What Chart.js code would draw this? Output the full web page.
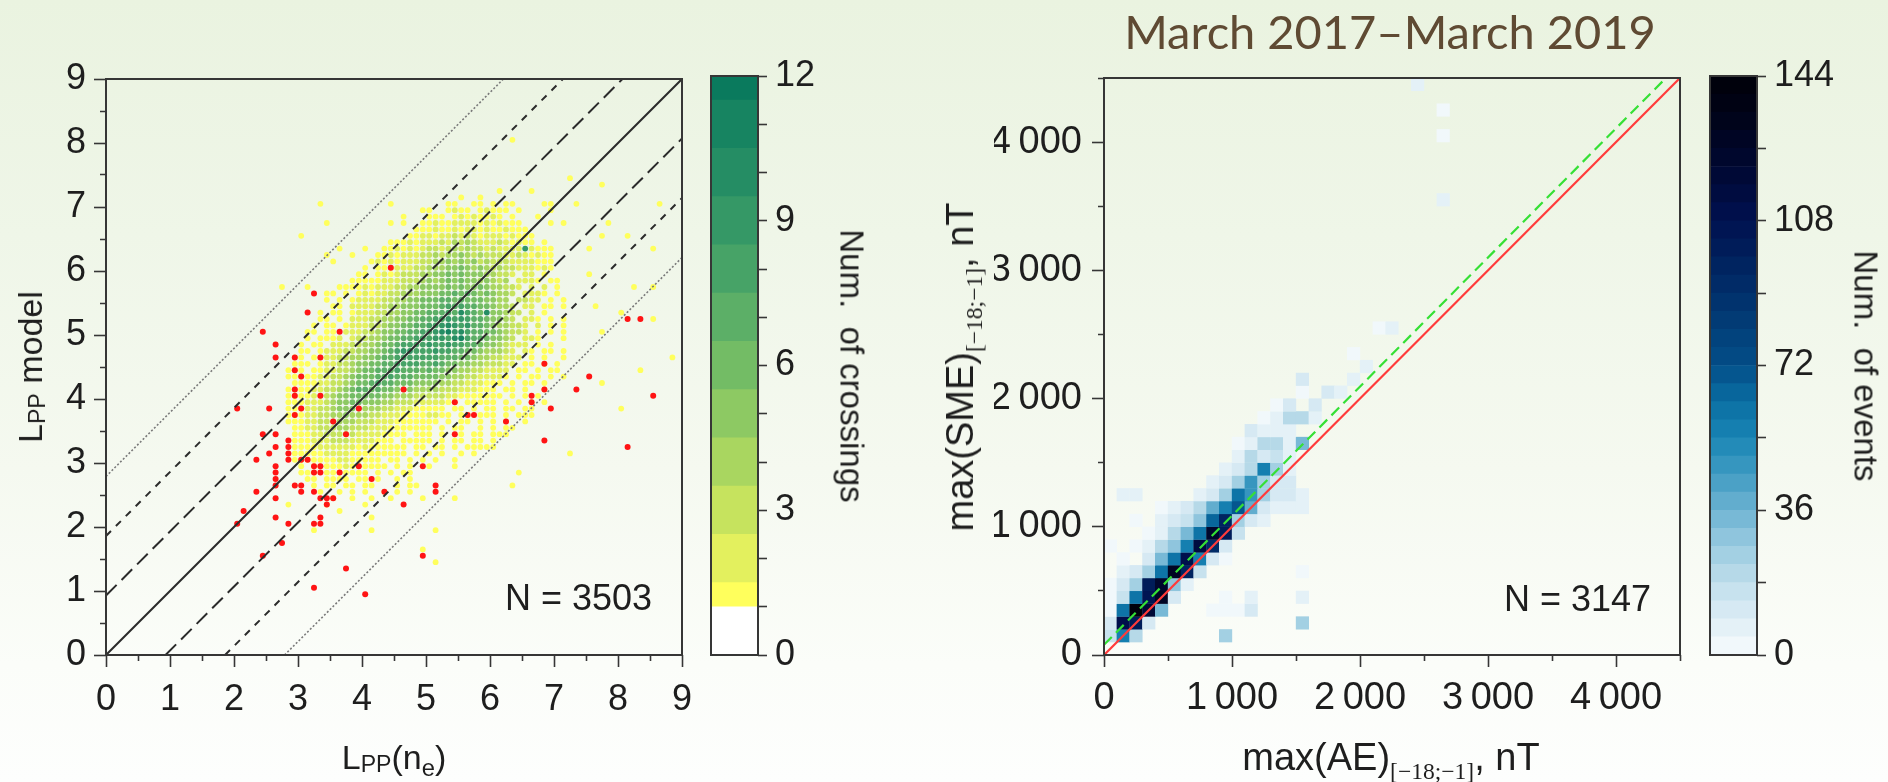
<!DOCTYPE html>
<html lang="en">
<head>
<meta charset="utf-8">
<title>Plasmapause model and SME/AE comparison</title>
<script src="https://cdn.jsdelivr.net/npm/chart.js@4.4.1/dist/chart.umd.min.js"></script>
<style>
  html, body { margin: 0; padding: 0; }
  body {
    width: 1888px; height: 782px; overflow: hidden; position: relative;
    background: linear-gradient(180deg, #eaf3e0 0%, #eff6e8 30%, #f5f9f0 60%, #fbfdf9 85%, #fdfefd 100%);
    font-family: "Liberation Sans", Arial, sans-serif; color: #1e1e1e;
  }
  canvas { position: absolute; left: 0; top: 0; }
  .t { position: absolute; white-space: nowrap; line-height: 1; transform: translate(-50%, -50%); }
  .rotL { transform: translate(-50%, -50%) rotate(-90deg); }
  .rotR { transform: translate(-50%, -50%) rotate(90deg); }
  .right { transform: translate(-100%, -50%); }
  .sub { font-size: 0.68em; position: relative; top: 0.12em; }
  .sube { font-size: 0.7em; position: relative; top: 0.3em; }
  .subr { font-family: "Liberation Serif", serif; font-size: 0.62em; position: relative; top: 0.38em; }
  #heading { font-family: Lato, "Open Sans", sans-serif; font-size: 47px; color: #5f4a33; }
</style>
</head>
<body>
<canvas id="lppChart" width="1888" height="782"></canvas>
<canvas id="lppBar" width="1888" height="782"></canvas>
<canvas id="smeChart" width="1888" height="782"></canvas>
<canvas id="smeBar" width="1888" height="782"></canvas>

<div class="t" id="heading" style="left:1390px; top:31px;">March 2017–March 2019</div>
<div class="t rotL" style="left:30px; top:367px; font-size:34px;">L<span class="sub">PP</span> model</div>
<div class="t" style="left:394px; top:757px; font-size:34px;">L<span class="sub">PP</span>(n<span class="sube">e</span>)</div>
<div class="t rotR" style="left:852px; top:366px; font-size:33px;">Num.&nbsp; of crossings</div>
<div class="t right" style="left:652px; top:598px; font-size:36px;">N = 3503</div>
<div class="t rotL" style="left:960px; top:367px; font-size:38px;">max(SME)<span class="subr">[−18;−1]</span>, nT</div>
<div class="t" style="left:1391px; top:757px; font-size:38px;">max(AE)<span class="subr">[−18;−1]</span>, nT</div>
<div class="t rotR" style="left:1866px; top:366px; font-size:33px;">Num.&nbsp; of events</div>
<div class="t right" style="left:1651px; top:599px; font-size:36px;">N = 3147</div>

<script>
// ---------- Left panel: modelled vs. observed plasmapause L ----------
const lppTickLabels = ['0', '1', '2', '3', '4', '5', '6', '7', '8', '9'];
const bandOffsets = [0, 0.93, 1.86, 2.79];          // y = x, ±1σ, ±2σ, ±3σ

// crossings per 0.1 × 0.1 cell; rows are [cell centre y, counts from x = 2.05 upward]
// '.' = empty, digits / letters are counts in base 36
const crossingX0 = 2.05, crossingBin = 0.1;
const crossingRows = [
  [8.05, ".......... .......... .......... .......... ...1...... .......... .........."],
  [7.45, ".......... .......... .......... .......... .......... ..1....... .........."],
  [7.35, ".......... .......... .......... .......... .......... .......1.. .........."],
  [7.25, ".......... .......... .......... .......... .1....1... .......... .........."],
  [7.15, ".......... .......... .......... .....1..1. .......... .......... .........."],
  [7.05, ".......... ...1...... ....1..... ...11..11. 1.11....11 ...1...... ......1..."],
  [6.95, ".......... .......... .........1 1..1211.12 111.1....1 .......... .........."],
  [6.85, ".......... .......... ......1... 111.121211 21.1...1.. .......... .........."],
  [6.75, ".......... ....1..... ....1.1..1 1211222212 12111....1 .1......1. .........."],
  [6.65, ".......... .......... ........11 1211212212 112111.... .......... .........."],
  [6.55, ".......... 1......... .......112 2122323212 2212111... .......1.. .1........"],
  [6.45, ".......... .......... ....111212 2232434322 2321211.1. .......... .........."],
  [6.35, ".......... ......1... 1..1121212 3323434332 3222292111 .....1.... .....1...."],
  [6.25, ".......... ....1...1. ..11212223 3434454343 3322321211 .......... .........."],
  [6.15, ".......... .....1.... .121212223 3445454534 3332222111 .......... .........."],
  [6.05, ".......... .......... 1.11122233 4445565454 3433222121 .......... .........."],
  [5.95, ".......... .........1 1.12123334 4556565554 4332.22.1. .....1.... .........."],
  [5.85, ".......... ........11 1112223334 5456565545 434.2221.1 1......... .........."],
  [5.75, ".......1.. .1....1111 2122233445 5556565565 44332.2.2. 1......... ..1..1...."],
  [5.65, ".......... ....11.1.1 2122334445 5566767656 5443.2221. 1......... .........."],
  [5.55, ".......... ....1.1.12 2223344556 6677676665 544.3322.1 .1........ .........."],
  [5.45, ".......... .....11.22 2233445556 6678787766 5443.22.11 .1....1... .........."],
  [5.35, ".......... ...1.11.12 2233445566 77787a876a 55433.2.1. .......... 1........."],
  [5.25, ".......... ...11.1.22 2334455667 7889898776 5543.221.1 .1........ .....1...."],
  [5.15, ".......... ..1.11.122 2334556677 889a989776 544332.2.1 .1........ .........."],
  [5.05, ".......... .11.11.222 3345566778 89ab9a8776 654332.1.1 .1.....1.. .........."],
  [4.95, ".......... .1.1112.23 3445667788 8998ab8776 5543.221.. .1........ .........."],
  [4.85, ".......... 1.11.22233 4456678888 9889887765 543222.1.1 .......... .........."],
  [4.75, ".......... 11.1222334 4556789988 8988776654 4432.21.11 .1........ .........."],
  [4.65, ".........1 1.11223344 5567788888 8877766544 33222.1.1. .1........ ........1."],
  [4.55, ".........1 11.1223345 5667788887 7876655443 3322.11.1. 1......... .........."],
  [4.45, "........11 1.11223345 6677787776 7665544332 222.11.1.1 1......... ...1......"],
  [4.35, "........11 1112233456 6677877766 6655443322 221.1.11.1 .1........ .........."],
  [4.25, ".........1 1112233456 6787766655 5544332221 11.1.11.1. .......1.. .........."],
  [4.15, "........11 1122334567 7676655544 4433322211 1.11.1..1. .......... .........."],
  [4.05, "........11 1122345566 6665544433 3332211111 11.1.1.1.. .......... .........."],
  [3.95, "........11 1222345566 5554433322 22211.1111 1.1.1.1.1. .......... .........."],
  [3.85, "........11 1223345555 4443322211 111.11.1.1 1.11.11... .......... 1........."],
  [3.75, "........11 1223344544 4332221111 2211.11.11 1.1.111... .......... .........."],
  [3.65, "........11 1223344443 3322211111 11.1.11.1. 1.1..1.... .......... .........."],
  [3.55, ".........1 1223334433 3222111111 1.1.11..1. 1.11...... .......... .........."],
  [3.45, ".........1 1122333332 2221111.11 1.1..1.11. 111....... .......... .........."],
  [3.35, ".........1 1122233322 22111.1111 1.1.11.11. 1......... .......... .........."],
  [3.25, ".........1 1112222221 2111111.11 .11.1.1111 1......... .......... .........."],
  [3.15, ".........1 1111222211 1111111.1. 1.1..1.1.. .......... ..1....... .........."],
  [3.05, ".........1 1111112211 111.11.1.1 .1..1..... .......... .......... .........."],
  [2.95, ".......... 1.11111211 1111.1.1.. 1...1..... .......... .......... .........."],
  [2.85, ".......... 111.111111 1.1.1.11.. .......... ....1..... .......... .........."],
  [2.75, ".......... .11.1111.1 1.1..1.1.. .......... .......... .......... .........."],
  [2.65, ".......... ..1.11.11. 11...1.11. .......... ...1...... .......... .........."],
  [2.55, ".......... ...1..1.1. 1..1.1.1.. .......... .......... .......... .........."],
  [2.45, ".......... .....1..1. .1..1....1 ....1..... .......... .......... .........."],
  [2.35, "........1. ....1..... 1......... .......... .......... .......... .........."],
  [2.25, ".......... ......1... .......... .......... .......... .......... .........."],
  [2.15, ".......... .......... .1........ .......... .......... .......... .........."],
  [1.95, ".......... ..1....... .1........ .1........ .......... .......... .........."],
  [1.65, ".......... .......... .........1 .......... .......... .......... .........."],
  [1.45, ".......... .......... .......... .1........ .......... .......... .........."]
];

// crossings flagged separately (red)
const outlierX = [4.45, 3.25, 3.15, 2.45, 2.65, 2.65, 2.95, 3.35, 3.65, 2.95, 3.05, 2.95, 2.95, 3.35, 4.65,
  8.15, 8.35, 6.85, 7.55, 7.35, 6.85, 6.65, 8.55,
  2.05, 2.55, 3.05, 2.95, 3.55, 3.95, 3.75, 2.45, 2.65, 2.65, 2.55, 2.85, 2.85, 2.85, 2.85, 2.35,
  3.05, 3.15, 2.65, 2.65, 3.25, 3.25, 3.35, 3.35, 3.65, 3.95, 4.15, 2.65, 2.65, 2.95, 3.05, 3.05,
  3.25, 2.35, 2.65, 3.35, 3.45, 3.55, 3.45, 2.15, 2.05, 2.65, 2.85, 3.25, 3.35, 3.35, 2.75, 2.45,
  3.75, 3.25, 4.05, 4.35, 4.65, 4.95, 5.15, 5.15, 4.95, 5.45, 5.45,
  6.95, 6.85, 8.15, 6.65, 6.25, 5.65, 5.75];
const outlierY = [6.05, 5.65, 5.35, 5.05, 4.85, 4.65, 4.65, 4.65, 5.05, 4.45, 4.35, 4.15, 4.05, 4.05, 4.15,
  5.25, 5.25, 4.55, 4.35, 4.15, 4.15, 4.05, 4.05,
  3.85, 3.85, 3.85, 3.75, 3.65, 3.85, 3.45, 3.45, 3.45, 3.25, 3.15, 3.35, 3.25, 3.15, 3.05, 3.05,
  3.05, 3.05, 2.95, 2.85, 2.95, 2.85, 2.85, 2.95, 2.85, 2.95, 2.75, 2.75, 2.65, 2.65, 2.65, 2.55,
  2.55, 2.55, 2.45, 2.45, 2.45, 2.45, 2.35, 2.25, 2.05, 2.15, 2.05, 2.05, 2.05, 2.15, 1.75, 1.55,
  1.35, 1.05, 0.95, 2.55, 2.35, 2.95, 2.65, 2.55, 1.55, 3.45, 3.95,
  3.85, 3.35, 3.25, 3.95, 3.65, 3.75, 3.75];

// colour bar: level edges and colours
const crossingEdges = [0, 1, 1.5, 2.5, 3.5, 4.5, 5.5, 6.5, 7.5, 8.5, 9.5, 10.5, 11.5, 12];
const crossingColors = ['#ffffff', '#ffff5c', '#e3f05e', '#c6e35e', '#a9d660', '#8dc963', '#73bc65',
  '#5caf67', '#47a367', '#359866', '#258d64', '#178461', '#0a7a5d'];
const crossingTickValues = [0, 3, 6, 9, 12];

// ---------- Right panel: max SME vs. max AE ----------
const aeTickLabels = ['0', '1\u2009000', '2\u2009000', '3\u2009000', '4\u2009000'];
const aeBin = 100;                                   // nT per cell
// event counts; row index = SME bin, entry index = AE bin
const eventRows = [
  [],
  [15, 55, 20, 0, 0, 0, 0, 0, 0, 25],
  [10, 110, 100, 12, 0, 0, 0, 0, 0, 0, 0, 0, 0, 0, 0, 25],
  [4, 60, 140, 120, 35, 0, 0, 0, 3, 3, 4, 12],
  [3, 15, 60, 105, 130, 12, 0, 0, 0, 4, 0, 8, 0, 0, 0, 5],
  [3, 12, 25, 100, 125, 30, 8],
  [0, 5, 12, 25, 60, 130, 95, 15, 0, 0, 0, 0, 0, 0, 0, 3],
  [0, 4, 0, 12, 35, 60, 110, 55, 10, 3],
  [3, 0, 4, 6, 18, 30, 55, 115, 90, 12],
  [0, 0, 0, 4, 8, 18, 35, 60, 125, 100, 15],
  [0, 0, 3, 0, 5, 10, 14, 30, 65, 95, 25, 12, 5],
  [0, 0, 0, 0, 3, 5, 10, 18, 40, 55, 70, 40, 10, 6, 5, 5],
  [0, 5, 5, 0, 0, 0, 0, 8, 12, 25, 60, 45, 25, 10, 10, 6],
  [0, 0, 0, 0, 0, 0, 0, 0, 6, 12, 25, 45, 25, 10, 12],
  [0, 0, 0, 0, 0, 0, 0, 0, 0, 6, 10, 18, 55, 25, 8],
  [0, 0, 0, 0, 0, 0, 0, 0, 0, 0, 5, 20, 10, 15, 5],
  [0, 0, 0, 0, 0, 0, 0, 0, 0, 0, 4, 8, 18, 18, 6, 35],
  [0, 0, 0, 0, 0, 0, 0, 0, 0, 0, 0, 12, 5, 8, 6],
  [0, 0, 0, 0, 0, 0, 0, 0, 0, 0, 0, 0, 4, 6, 18, 18, 8],
  [0, 0, 0, 0, 0, 0, 0, 0, 0, 0, 0, 0, 0, 4, 12, 0, 10],
  [0, 0, 0, 0, 0, 0, 0, 0, 0, 0, 0, 0, 0, 0, 0, 3, 0, 10, 8],
  [0, 0, 0, 0, 0, 0, 0, 0, 0, 0, 0, 0, 0, 0, 0, 12, 0, 0, 0, 8],
  [0, 0, 0, 0, 0, 0, 0, 0, 0, 0, 0, 0, 0, 0, 0, 0, 0, 0, 0, 0, 6],
  [0, 0, 0, 0, 0, 0, 0, 0, 0, 0, 0, 0, 0, 0, 0, 0, 0, 0, 0, 2],
  [],
  [0, 0, 0, 0, 0, 0, 0, 0, 0, 0, 0, 0, 0, 0, 0, 0, 0, 0, 0, 0, 0, 2, 8]
];
// isolated events far above the diagonal: [AE bin, SME bin, count]
const eventOutliers = [[26, 35, 6], [26, 40, 2], [26, 42, 2], [24, 44, 6]];
const identityLine = [[0, 0], [4500, 4500]];
const fitLine = [[0, 80], [4390, 4500]];

// colour bar for events
const eventMax = 144, eventStep = 4.5;
const eventTickValues = [0, 36, 72, 108, 144];
const eventStops = [
  [0, '#f7fbfd'], [9, '#deedf5'], [18, '#bfdeeb'], [27, '#9acbe0'], [36, '#6db3d2'],
  [45, '#3f9bc2'], [54, '#1985b4'], [63, '#0a6ea2'], [72, '#034e88'], [81, '#023f79'],
  [90, '#012f6a'], [99, '#00205c'], [108, '#001150'], [117, '#000a3a'], [126, '#000628'],
  [135, '#000317'], [144, '#000008']
];

// ---------- helpers ----------
const AXIS = '#363636';
const hex = h => [1, 3, 5].map(i => parseInt(h.slice(i, i + 2), 16));
function stopColor(v) {
  for (let i = 1; i < eventStops.length; i++) {
    const [v1, c1] = eventStops[i];
    if (v <= v1) {
      const [v0, c0] = eventStops[i - 1];
      const f = (v - v0) / (v1 - v0), a = hex(c0), b = hex(c1);
      return 'rgb(' + a.map((x, k) => Math.round(x + (b[k] - x) * f)).join(',') + ')';
    }
  }
  return eventStops[eventStops.length - 1][1];
}
const eventBands = [];
for (let lo = 0; lo < eventMax - 1e-9; lo += eventStep) {
  eventBands.push({ lo, hi: lo + eventStep, color: stopColor(lo + eventStep / 2) });
}
function eventColor(v) {
  const b = Math.min(eventBands.length - 1, Math.floor(v / eventStep));
  return eventBands[b].color;
}
function crossingColor(v) {
  for (let i = 0; i < crossingColors.length; i++) {
    if (v < crossingEdges[i + 1] || i === crossingColors.length - 1) return crossingColors[i];
  }
}

// build cells
const crossingCells = [];
crossingRows.forEach(([yc, row]) => {
  const s = row.replace(/ /g, '');
  for (let i = 0; i < s.length; i++) {
    if (s[i] === '.') continue;
    crossingCells.push({ x: crossingX0 + i * crossingBin, y: yc, v: parseInt(s[i], 36) });
  }
});
const outliers = outlierX.map((x, i) => ({ x, y: outlierY[i] }));

const eventCells = [];
eventRows.forEach((row, j) => row.forEach((v, i) => {
  if (v > 0) eventCells.push({ x: (i + 0.5) * aeBin, y: (j + 0.5) * aeBin, v });
}));
eventOutliers.forEach(([i, j, v]) => eventCells.push({ x: (i + 0.5) * aeBin, y: (j + 0.5) * aeBin, v }));

// the ±kσ lines, clipped to the 0–9 box
function bandLine(off, sign) {
  return sign > 0 ? [{ x: 0, y: off }, { x: 9 - off, y: 9 }] : [{ x: off, y: 0 }, { x: 9, y: 9 - off }];
}
const bandStyles = [
  { dash: [], color: '#2b2b2b', width: 2 },
  { dash: [15, 7], color: '#2b2b2b', width: 2 },
  { dash: [7, 7], color: '#2b2b2b', width: 2 },
  { dash: [2, 2], color: '#7a7a7a', width: 1.6 }
];
const lineSets = [];
bandOffsets.forEach((off, k) => {
  const st = bandStyles[k];
  const signs = off === 0 ? [1] : [1, -1];
  signs.forEach(sg => lineSets.push({
    data: bandLine(off, sg), showLine: true, pointRadius: 0, borderColor: st.color,
    borderWidth: st.width, borderDash: st.dash, fill: false
  }));
});

// ---------- Chart.js setup ----------
Chart.defaults.font.family = '"Liberation Sans", Arial, sans-serif';
Chart.defaults.color = '#1e1e1e';
Chart.defaults.animation = false;
Chart.defaults.events = [];
Chart.defaults.plugins.legend.display = false;
Chart.defaults.plugins.tooltip.enabled = false;

const framePlugin = {
  id: 'frame',
  afterDatasetsDraw(chart) {
    const a = chart.chartArea, c = chart.ctx;
    c.save();
    c.strokeStyle = AXIS; c.lineWidth = 2;
    c.strokeRect(a.left, a.top, a.right - a.left, a.bottom - a.top);
    c.restore();
  }
};
Chart.register(framePlugin);

const isMinor = (ctx, step) => Math.abs(ctx.tick.value / step - Math.round(ctx.tick.value / step)) > 1e-6;

function axis(opts) {
  const { pos, min, max, step, major, labels, size, pad, fit } = opts;
  const horizontal = pos === 'bottom';
  return {
    type: 'linear', position: pos, min, max,
    afterFit: s => { if (horizontal) s.height = fit; else s.width = fit; },
    ticks: {
      stepSize: step, autoSkip: false, maxRotation: 0, padding: pad,
      font: { size }, color: '#1e1e1e',
      callback: v => isMinor({ tick: { value: v } }, major) ? '' : labels(v)
    },
    grid: {
      drawOnChartArea: false, tickLength: 12, tickWidth: 1.6, tickColor: AXIS,
      tickBorderDash: ctx => isMinor(ctx, major) ? (horizontal ? [6, 30] : [0, 6, 6, 30]) : []
    },
    border: { display: false }
  };
}

// left scatter / 2-D histogram
new Chart(document.getElementById('lppChart'), {
  type: 'scatter',
  data: {
    datasets: [
      ...lineSets,
      { data: outliers, pointRadius: 3.0, backgroundColor: '#ff1414', borderWidth: 0 },
      { data: crossingCells, pointRadius: 2.9, borderWidth: 0,
        backgroundColor: ctx => ctx.raw ? crossingColor(ctx.raw.v) : '#ffff5c' }
    ]
  },
  options: {
    responsive: false, devicePixelRatio: 1,
    layout: { padding: { left: 6, right: 1206, top: 79, bottom: 27 } },
    scales: {
      x: axis({ pos: 'bottom', min: 0, max: 9, step: 0.5, major: 1, size: 36, pad: 11, fit: 100,
                labels: v => lppTickLabels[Math.round(v)] }),
      y: axis({ pos: 'left', min: 0, max: 9, step: 0.5, major: 1, size: 36, pad: 8, fit: 100,
                labels: v => lppTickLabels[Math.round(v)] })
    }
  }
});

// colour bar helper
function colorBar(canvasId, bands, max, step, tickValues, padLeft) {
  new Chart(document.getElementById(canvasId), {
    type: 'bar',
    data: {
      labels: [''],
      datasets: bands.map(b => ({
        data: [[b.lo, b.hi]], backgroundColor: b.color, borderWidth: 0,
        grouped: false, barPercentage: 1, categoryPercentage: 1
      }))
    },
    options: {
      responsive: false, devicePixelRatio: 1,
      layout: { padding: { left: padLeft, right: 1888 - padLeft - 47 - 100, top: 76, bottom: 127 } },
      scales: {
        x: { display: false },
        y: {
          position: 'right', min: 0, max,
          afterFit: s => { s.width = 100; },
          ticks: { stepSize: step, autoSkip: false, padding: 8, font: { size: 36 }, color: '#1e1e1e',
                   callback: v => tickValues.includes(v) ? String(v) : '' },
          grid: { drawOnChartArea: false, tickLength: 9, tickWidth: 1.6, tickColor: AXIS },
          border: { display: false }
        }
      }
    }
  });
}
colorBar('lppBar',
  crossingColors.map((c, i) => ({ lo: crossingEdges[i], hi: crossingEdges[i + 1], color: c })),
  12, 1, crossingTickValues, 711);

// right 2-D histogram
const cellRadius = ctx => {
  const s = ctx.chart.scales.x;
  return Math.abs(s.getPixelForValue(aeBin) - s.getPixelForValue(0)) / Math.SQRT2 + 0.25;
};
new Chart(document.getElementById('smeChart'), {
  type: 'scatter',
  data: {
    datasets: [
      { data: fitLine.map(([x, y]) => ({ x, y })), showLine: true, pointRadius: 0,
        borderColor: '#35e035', borderWidth: 2.2, borderDash: [11, 6] },
      { data: identityLine.map(([x, y]) => ({ x, y })), showLine: true, pointRadius: 0,
        borderColor: '#ff3b3b', borderWidth: 2.2 },
      { data: eventCells, pointStyle: 'rect', pointRadius: cellRadius, borderWidth: 0,
        backgroundColor: ctx => ctx.raw ? eventColor(ctx.raw.v) : '#ffffff' }
    ]
  },
  options: {
    responsive: false, devicePixelRatio: 1,
    layout: { padding: { left: 994, right: 208, top: 78, bottom: 27 } },
    scales: {
      x: axis({ pos: 'bottom', min: 0, max: 4500, step: 500, major: 1000, size: 38, pad: 9, fit: 100,
                labels: v => aeTickLabels[Math.round(v / 1000)] }),
      y: axis({ pos: 'left', min: 0, max: 4500, step: 500, major: 1000, size: 38, pad: 10, fit: 110,
                labels: v => aeTickLabels[Math.round(v / 1000)] })
    }
  }
});

colorBar('smeBar', eventBands, eventMax, 18, eventTickValues, 1710);
</script>
</body>
</html>
